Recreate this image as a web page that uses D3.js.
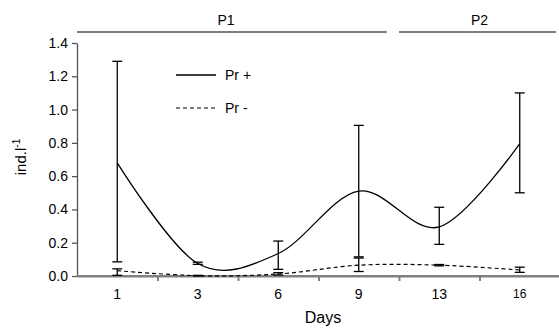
<!DOCTYPE html>
<html>
<head>
<meta charset="utf-8">
<script src="https://cdn.jsdelivr.net/npm/d3@7"></script>
<style>
  body { margin: 0; background: #fff; }
  text { font-family: 'Liberation Sans', Arial, sans-serif; fill: #000; }
  .axis text { font-size: 14px; }
  .x-axis path, .x-axis line { stroke: #808080; stroke-width: 2px; }
  .y-axis path, .y-axis line { stroke: #555; stroke-width: 1.3px; }
  .line-plus { fill: none; stroke: #000; stroke-width: 1.3px; }
  .line-minus { fill: none; stroke: #000; stroke-width: 1.2px; stroke-dasharray: 4, 3; }
  .err { stroke: #000; stroke-width: 1.3px; }
  .period { stroke: #555; stroke-width: 1.5px; }
</style>
</head>
<body>
<svg id="chart" width="559" height="328"></svg>
<script>
// data
const days = ['1', '3', '6', '9', '13', '16'];
const prPlus = [0.68, 0.075, 0.135, 0.51, 0.295, 0.795];
const prPlusLow = [0.085, 0.07, 0.04, 0.115, 0.19, 0.5];
const prPlusHigh = [1.29, 0.083, 0.21, 0.905, 0.413, 1.1];
const prMinus = [0.032, 0.002, 0.012, 0.065, 0.065, 0.036];
const prMinusLow = [0.004, 0.0, 0.006, 0.027, 0.061, 0.022];
const prMinusHigh = [0.043, 0.004, 0.02, 0.108, 0.069, 0.053];
const yTicks = [0, 0.2, 0.4, 0.6, 0.8, 1.0, 1.2, 1.4];
const periods = [
  { name: 'P1', from: 0, to: 3.85 },
  { name: 'P2', from: 4.0, to: 5.95 },
];

const svg = d3.select('#chart');
const m = { left: 77, right: 560, top: 43, bottom: 276 };

const x = d3.scaleBand().domain(days).range([m.left, m.right]).padding(0);
const xi = d3.scaleLinear().domain([0, days.length]).range([m.left, m.right]);
const y = d3.scaleLinear().domain([0, 1.4]).range([m.bottom, m.top]);
const cx = (d) => x(d) + x.bandwidth() / 2;

// x axis: labels at band centres, ticks at band edges
const xAxis = svg.append('g')
  .attr('class', 'x-axis axis')
  .attr('transform', 'translate(0,' + m.bottom + ')');
xAxis.call(d3.axisBottom(x).tickSize(0).tickPadding(13));
xAxis.select('.domain').remove();
xAxis.selectAll('text')
  .style('font-size', (d) => (d === '16' ? '12px' : '14px'));
svg.append('g')
  .attr('class', 'x-axis axis')
  .attr('transform', 'translate(0,' + m.bottom + ')')
  .call(d3.axisBottom(xi).tickValues([1, 2, 3, 4, 5]).tickFormat('').tickSize(5).tickSizeOuter(0));

// y axis
svg.append('g')
  .attr('class', 'y-axis axis')
  .attr('transform', 'translate(' + m.left + ',0)')
  .call(d3.axisLeft(y).tickValues(yTicks).tickFormat(d3.format('.1f')).tickSize(5).tickSizeOuter(0).tickPadding(4));

// x axis line over the y tick at zero
svg.append('line')
  .attr('x1', m.left).attr('x2', m.right)
  .attr('y1', m.bottom).attr('y2', m.bottom)
  .style('stroke', '#808080').style('stroke-width', 2);

// axis titles
svg.append('text')
  .attr('x', 323).attr('y', 323)
  .attr('text-anchor', 'middle')
  .style('font-size', '16px')
  .text('Days');

const yl = svg.append('text')
  .attr('transform', 'translate(26,157) rotate(-90)')
  .attr('text-anchor', 'middle')
  .style('font-size', '15px');
yl.append('tspan').text('ind.l');
yl.append('tspan').attr('dy', -6).style('font-size', '10px').text('-1');

// period bars
periods.forEach((p) => {
  svg.append('line')
    .attr('class', 'period')
    .attr('x1', xi(p.from)).attr('x2', xi(p.to))
    .attr('y1', 32).attr('y2', 32);
  svg.append('text')
    .attr('x', (xi(p.from) + xi(p.to)) / 2 + (p.name === 'P1' ? -6 : 2))
    .attr('y', 25)
    .attr('text-anchor', 'middle')
    .style('font-size', '14px')
    .text(p.name);
});

// error bars
function errorBars(lo, hi) {
  const g = svg.append('g');
  days.forEach((d, i) => {
    g.append('line').attr('class', 'err')
      .attr('x1', cx(d)).attr('x2', cx(d))
      .attr('y1', y(lo[i])).attr('y2', y(hi[i]));
    [lo[i], hi[i]].forEach((v) => {
      g.append('line').attr('class', 'err')
        .attr('x1', cx(d) - 5).attr('x2', cx(d) + 5)
        .attr('y1', y(v)).attr('y2', y(v));
    });
  });
}
errorBars(prPlusLow, prPlusHigh);
errorBars(prMinusLow, prMinusHigh);

// smoothed lines
const line = d3.line()
  .x((d) => cx(d[0]))
  .y((d) => y(d[1]))
  .curve(d3.curveCatmullRom.alpha(0));

svg.append('path')
  .attr('class', 'line-plus')
  .attr('d', line(days.map((d, i) => [d, prPlus[i]])));
svg.append('path')
  .attr('class', 'line-minus')
  .attr('d', line(days.map((d, i) => [d, prMinus[i]])));

// legend
const legend = svg.append('g').attr('transform', 'translate(176,75)');
[['Pr +', 'line-plus'], ['Pr -', 'line-minus']].forEach((l, i) => {
  legend.append('line')
    .attr('class', l[1])
    .attr('x1', 0).attr('x2', 40)
    .attr('y1', i * 33).attr('y2', i * 33);
  legend.append('text')
    .attr('x', 49).attr('y', i * 33 + 5)
    .style('font-size', '14px')
    .text(l[0]);
});
</script>
</body>
</html>
